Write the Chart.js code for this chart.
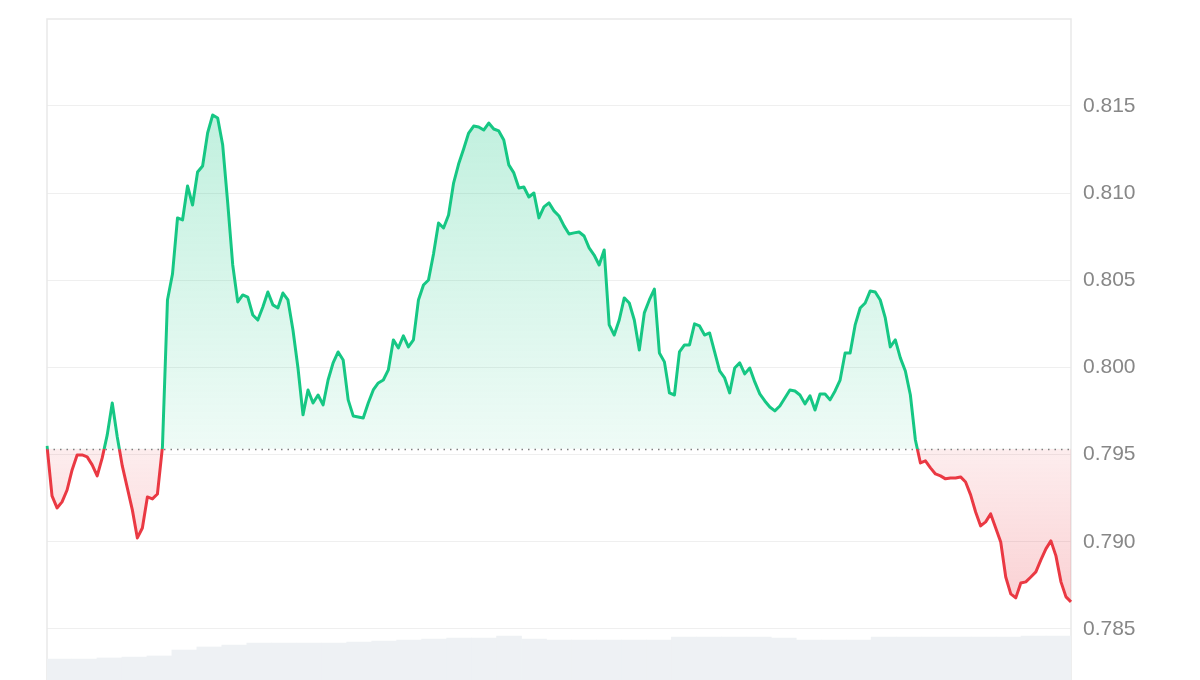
<!DOCTYPE html>
<html>
<head>
<meta charset="utf-8">
<script src="https://cdn.jsdelivr.net/npm/chart.js@4.4.1/dist/chart.umd.min.js"></script>
<style>
  html, body { margin: 0; padding: 0; background: #fff; }
  #wrap { width: 1200px; height: 680px; }
</style>
</head>
<body>
<div id="wrap"><canvas id="myChart" width="1200" height="680"></canvas></div>
<script>
const ctx = document.getElementById("myChart").getContext("2d");

// price over 24h, ~7 min steps
const prices = [
  0.79550, 0.79263, 0.79194, 0.79229, 0.79297, 0.79412, 0.79498, 0.79498, 0.79487, 0.79441,
  0.79378, 0.79481, 0.79613, 0.79796, 0.79601, 0.79435, 0.79309, 0.79183, 0.79022, 0.79079,
  0.79257, 0.79246, 0.79274, 0.79544, 0.80387, 0.80536, 0.80858, 0.80846, 0.81041, 0.80932,
  0.81121, 0.81156, 0.81345, 0.81448, 0.81431, 0.81276, 0.80944, 0.80588, 0.80376, 0.80416,
  0.80404, 0.80301, 0.80272, 0.80347, 0.80433, 0.80359, 0.80341, 0.80427, 0.80387, 0.80215,
  0.79997, 0.79728, 0.79871, 0.79796, 0.79842, 0.79785, 0.79928, 0.80026, 0.80089, 0.80043,
  0.79814, 0.79722, 0.79716, 0.79710, 0.79796, 0.79871, 0.79911, 0.79928, 0.79986, 0.80158,
  0.80112, 0.80181, 0.80118, 0.80158, 0.80387, 0.80473, 0.80502, 0.80651, 0.80829, 0.80800,
  0.80875, 0.81058, 0.81167, 0.81253, 0.81345, 0.81385, 0.81380, 0.81362, 0.81402, 0.81368,
  0.81357, 0.81305, 0.81162, 0.81116, 0.81030, 0.81035, 0.80978, 0.81001, 0.80858, 0.80921,
  0.80944, 0.80898, 0.80869, 0.80812, 0.80766, 0.80772, 0.80777, 0.80754, 0.80686, 0.80645,
  0.80588, 0.80674, 0.80244, 0.80186, 0.80272, 0.80399, 0.80370, 0.80272, 0.80100, 0.80313,
  0.80387, 0.80450, 0.80083, 0.80032, 0.79854, 0.79842, 0.80089, 0.80129, 0.80129, 0.80250,
  0.80238, 0.80186, 0.80198, 0.80089, 0.79980, 0.79940, 0.79854, 0.79997, 0.80026, 0.79963,
  0.79997, 0.79917, 0.79848, 0.79808, 0.79773, 0.79751, 0.79779, 0.79825, 0.79871, 0.79865,
  0.79842, 0.79791, 0.79837, 0.79756, 0.79848, 0.79848, 0.79814, 0.79865, 0.79928, 0.80083,
  0.80083, 0.80244, 0.80341, 0.80370, 0.80439, 0.80433, 0.80387, 0.80284, 0.80118, 0.80158,
  0.80055, 0.79980, 0.79842, 0.79584, 0.79452, 0.79464, 0.79424, 0.79389, 0.79378, 0.79361,
  0.79366, 0.79366, 0.79372, 0.79343, 0.79269, 0.79171, 0.79091, 0.79114, 0.79160, 0.79079,
  0.78999, 0.78798, 0.78701, 0.78678, 0.78764, 0.78770, 0.78798, 0.78827, 0.78896, 0.78959,
  0.79005, 0.78919, 0.78770, 0.78684, 0.78655
];

// opening price (dotted reference line)
const openPrice = 0.79533;

// volume, one bar per ~35 min
const volumes = [
  9.5, 9.5, 10.0, 10.4, 10.9, 13.6, 15.0, 15.9, 16.8, 16.8,
  16.8, 16.8, 17.2, 17.7, 18.1, 18.6, 19.0, 19.0, 19.9, 18.6,
  18.1, 18.1, 18.1, 18.1, 18.1, 19.5, 19.5, 19.5, 19.5, 19.0,
  18.1, 18.1, 18.1, 19.5, 19.5, 19.5, 19.5, 19.5, 19.5, 19.9,
  19.9
];

const yTicks = [0.785, 0.790, 0.795, 0.800, 0.805, 0.810, 0.815];

const green = "#16c784";
const red = "#ea3943";

function hhmm(min) {
  const h = Math.floor(min / 60) % 24;
  const m = Math.round(min % 60);
  return String(h).padStart(2, "0") + ":" + String(m).padStart(2, "0");
}
const labels = prices.map((_, i) => hhmm(i * 1440 / (prices.length - 1)));
const volLabels = volumes.map((_, i) => hhmm(i * 1440 / volumes.length));

function splitGradient(chart, topCol, midTop, midBottom, bottomCol) {
  const { ctx, chartArea, scales } = chart;
  const yb = scales.y.getPixelForValue(openPrice);
  const t = Math.min(1, Math.max(0, (yb - chartArea.top) / (chartArea.bottom - chartArea.top)));
  const g = ctx.createLinearGradient(0, chartArea.top, 0, chartArea.bottom);
  g.addColorStop(0, topCol);
  g.addColorStop(t, midTop);
  g.addColorStop(t, midBottom);
  g.addColorStop(1, bottomCol);
  return g;
}

// frame + dotted open line
const framePlugin = {
  id: "frame",
  beforeDatasetsDraw(chart) {
    const { ctx, chartArea } = chart;
    ctx.save();
    ctx.strokeStyle = "#e9e9e9";
    ctx.lineWidth = 1.5;
    ctx.beginPath();
    ctx.moveTo(chartArea.left, chartArea.bottom);
    ctx.lineTo(chartArea.left, chartArea.top);
    ctx.lineTo(chartArea.right, chartArea.top);
    ctx.lineTo(chartArea.right, chartArea.bottom);
    ctx.stroke();
    ctx.restore();
  },
  afterDatasetsDraw(chart) {
    const { ctx, chartArea, scales } = chart;
    const y = Math.round(scales.y.getPixelForValue(openPrice)) + 0.5;
    ctx.save();
    ctx.strokeStyle = "#808080";
    ctx.lineWidth = 1.5;
    ctx.setLineDash([1.5, 5]);
    ctx.beginPath();
    ctx.moveTo(chartArea.left, y);
    ctx.lineTo(chartArea.right, y);
    ctx.stroke();
    ctx.restore();
  }
};

const data = {
  labels,
  datasets: [
    {
      type: "line",
      data: prices,
      xAxisID: "x",
      yAxisID: "y",
      borderWidth: 3,
      pointRadius: 0,
      tension: 0,
      borderJoinStyle: "round",
      borderColor: (c) => c.chart.chartArea ? splitGradient(c.chart, green, green, red, red) : green,
      backgroundColor: (c) => c.chart.chartArea
        ? splitGradient(c.chart, "rgba(22,199,132,0.32)", "rgba(22,199,132,0.07)", "rgba(234,57,67,0.09)", "rgba(234,57,67,0.30)")
        : "rgba(22,199,132,0.2)",
      fill: { target: { value: openPrice } },
      order: 1,
    },
    {
      type: "bar",
      data: volumes,
      xAxisID: "xv",
      yAxisID: "yv",
      backgroundColor: "#eef1f4",
      barPercentage: 1,
      categoryPercentage: 1,
      grouped: false,
      order: 2,
    },
  ],
};

const config = {
  type: "line",
  data: data,
  options: {
    responsive: false,
    animation: false,
    layout: { padding: { left: 47, top: 19, right: 0, bottom: 0 } },
    plugins: { legend: { display: false }, tooltip: { enabled: false } },
    scales: {
      y: {
        position: "right",
        min: 0.78207,
        max: 0.81999,
        afterFit: (s) => { s.width = 129; s.paddingTop = 0; s.paddingBottom = 0; },
        afterBuildTicks: (s) => { s.ticks = yTicks.map((v) => ({ value: v })); },
        border: { display: false },
        grid: { color: "#efefef", lineWidth: 1, drawTicks: false },
        ticks: {
          padding: 12,
          color: "#878787",
          font: { family: "Liberation Sans, Arial, sans-serif", size: 21 },
          callback: (v) => Number(v).toFixed(3),
        },
      },
      x: { display: false, offset: false },
      xv: { type: "category", labels: volLabels, display: false, offset: true },
      yv: { display: false, min: 0, max: 300 },
    },
  },
  plugins: [framePlugin],
};

const myChart = new Chart(ctx, config);
</script>
</body>
</html>
